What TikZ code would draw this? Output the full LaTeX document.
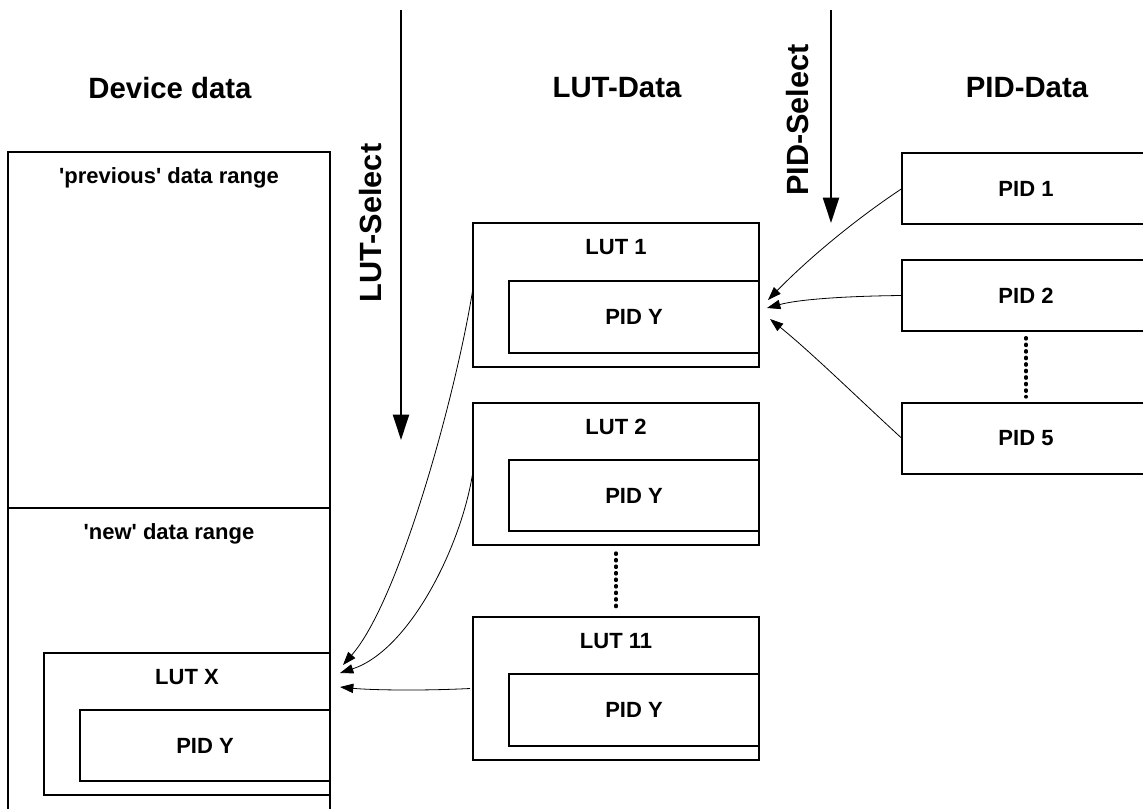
\documentclass[tikz,border=0pt]{standalone}
\usepackage{fontspec}
\setmainfont{Liberation Sans}
\usetikzlibrary{arrows.meta,fit}

\tikzset{every picture/.style={line width=0.75pt}}
\tikzset{
  box/.style={draw, line width=1.6pt, inner sep=0pt, outer sep=0pt},
  txt/.style={font=\fontsize{16.5}{18}\selectfont\bfseries, inner sep=0.75pt},
  head/.style={font=\fontsize{22}{24}\selectfont\bfseries, inner sep=0.75pt},
  sel/.style={font=\fontsize{23}{25}\selectfont\bfseries, inner sep=0.75pt, rotate=90},
  link/.style={line width=0.6pt, -{Triangle[length=10pt,width=7pt]}},
  selarrow/.style={line width=1.5pt, -{Triangle[length=19pt,width=12pt]}},
  dotline/.style={line width=2.5pt, line cap=round, dash pattern=on 1pt off 3.9pt}
}

\begin{document}
\begin{tikzpicture}[x=0.75pt,y=0.75pt,yscale=-1,xscale=1]
\useasboundingbox (0,0) rectangle (1143,808);
\clip (0,0) rectangle (1143,808);

%Shape: Device data
\node [box, fit={(8,152) (330,508)}] (prev) {};
\node [box, fit={(8,508) (330,830)}] (new) {};
\node [box, fit={(44,653) (330,795)}] (lutx) {};
\node [box, fit={(80,710) (330,781)}] (lutxpid) {};
%Shape: LUT data
\node [box, fit={(473,223) (759,367)}] (lut1) {};
\node [box, fit={(509,281) (759,353)}] (lut1pid) {};
\node [box, fit={(473,403) (759,545)}] (lut2) {};
\node [box, fit={(509,460) (759,531)}] (lut2pid) {};
\node [box, fit={(473,617) (759,760)}] (lut11) {};
\node [box, fit={(509,674) (759,746)}] (lut11pid) {};
%Shape: PID data
\node [box, fit={(902,153) (1150,224)}] (pid1) {};
\node [box, fit={(902,260) (1150,331)}] (pid2) {};
\node [box, fit={(902,403) (1150,474)}] (pid5) {};

%Dotted Lines
\draw [dotline, shorten <=6pt, shorten >=4.5pt] (lut2.south) -- (lut11.north);
\draw [dotline, shorten <=5pt, shorten >=4.5pt] (pid2.south) -- (pid5.north);

%Select arrows
\coordinate (lsTop) at (401,10);
\coordinate (lsEnd) at (401,440);
\coordinate (psTop) at (831,10);
\coordinate (psEnd) at (831,223);
\draw [selarrow] (lsTop) -- (lsEnd);
\draw [selarrow] (psTop) -- (psEnd);

%Curves PID -> LUT 1
\coordinate (in1) at (768,300);
\coordinate (in2) at (767,308);
\coordinate (in3) at (770,319);
\draw [link] (pid1.west) .. controls (853,221) and (807,260) .. (in1);
\draw [link] (pid2.west) .. controls (850,296) and (800,299) .. (in2);
\draw [link] (pid5.west) .. controls (860,400) and (812,353) .. (in3);
%Curves LUT -> LUT X
\coordinate (out1) at (343,665);
\coordinate (out2) at (340,673);
\coordinate (out3) at (340,687);
\draw [link] ([yshift=-5.25pt]lut1.west) .. controls (457,390) and (400,600) .. (out1);
\draw [link] ([yshift=-2.25pt]lut2.west) .. controls (462,545) and (410,650) .. (out2);
\draw [link] ([xshift=-2.25pt]lut11.west) .. controls (420,691) and (370,690) .. (out3);

% Text Node
\node [head] (hdev) at (170,88) {Device data};
\node [head] (hlut) at (617,88) {LUT-Data};
\node [head] (hpid) at (1027,88) {PID-Data};
\node [sel] (lsel) at (371,223) {LUT-Select};
\node [sel] (psel) at (798,120) {PID-Select};
% Text Node
\node [txt, anchor=base] (tprev) at (169,183) {\textquotesingle previous\textquotesingle{} data range};
\node [txt, anchor=base] (tnew) at (169,539) {\textquotesingle new\textquotesingle{} data range};
\node [txt, anchor=base] (tlutx) at (187,684) {LUT X};
\node [txt] at (lutxpid.center) (tlutxpid) {PID Y};
\node [txt, anchor=base] (tlut1) at (616,254) {LUT 1};
\node [txt] at (lut1pid.center) (tlut1pid) {PID Y};
\node [txt, anchor=base] (tlut2) at (616,434) {LUT 2};
\node [txt] at (lut2pid.center) (tlut2pid) {PID Y};
\node [txt, anchor=base] (tlut11) at (616,648) {LUT 11};
\node [txt] at (lut11pid.center) (tlut11pid) {PID Y};
\node [txt] at (pid1.center) (tpid1) {PID 1};
\node [txt] at (pid2.center) (tpid2) {PID 2};
\node [txt] at (pid5.center) (tpid5) {PID 5};

\end{tikzpicture}
\end{document}
